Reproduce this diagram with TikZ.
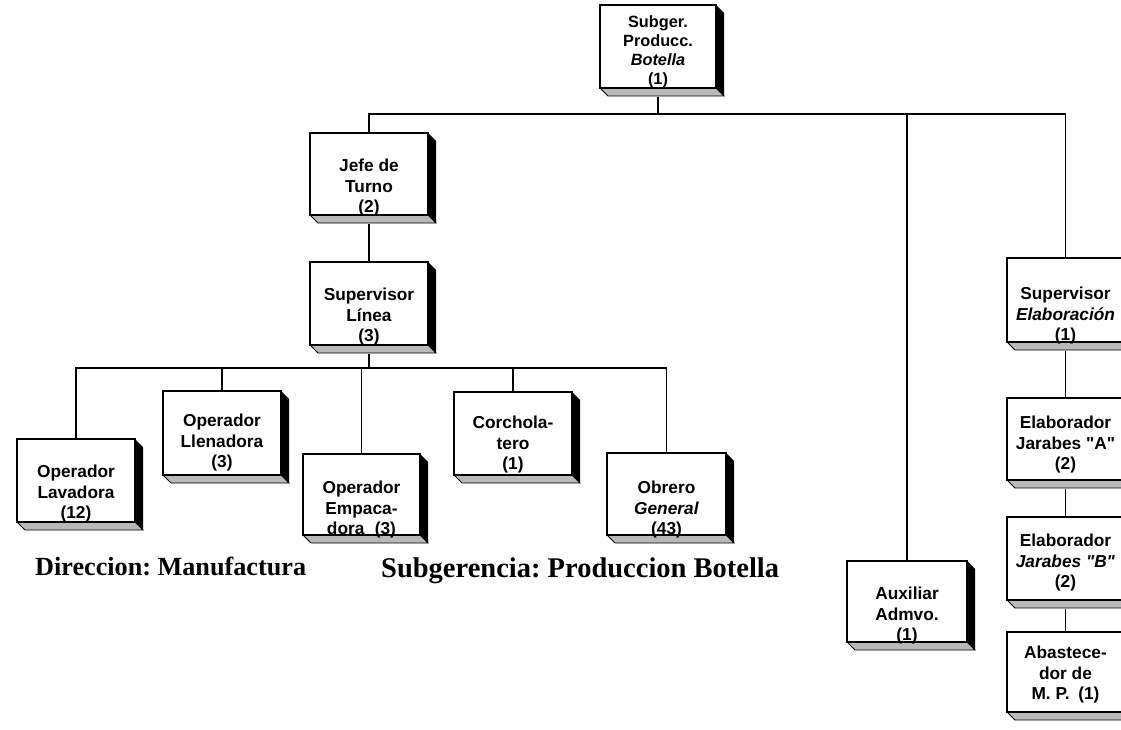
\documentclass[tikz,border=0pt]{standalone}
\usepackage{fontspec}
\setmainfont{Liberation Serif}
\setsansfont{Liberation Sans}[Ligatures=TeXOff]
\frenchspacing
\newcommand\dd{8}
\tikzset{
  boxfront/.style={draw=black, line width=1.4pt, fill=white, inner sep=0pt, rectangle},
  boxtext/.style={font=\sffamily\bfseries\fontsize{17.3}{20.5}\selectfont, align=center, inner sep=0pt, anchor=south},
  conn/.style={draw=black, line width=1.4pt},
  caption/.style={font=\rmfamily\bfseries\fontsize{26.2}{30}\selectfont, inner sep=0pt, anchor=base west},
}
% #1 extra text style, #2 name, #3 x1, #4 y1, #5 x2, #6 y2, #7 last baseline, #8 text
\newcommand\obox[8][]{%
  \fill[black] (#5,#4) -- (#5+\dd,#4+\dd) -- (#5+\dd,#6+\dd) -- (#5,#6) -- cycle;
  \filldraw[fill=gray!55, draw=black, line width=0.8pt] (#3,#6) -- (#3+\dd,#6+\dd) -- (#5+\dd,#6+\dd) -- (#5,#6) -- cycle;
  \node[boxfront, minimum width={#5-#3}, minimum height={#6-#4}] (#2) at ({(#3+#5)/2},{(#4+#6)/2}) {};
  \node[boxtext,#1] (#2t) at ({(#3+#5)/2},{#7+3.6}) {#8};
}
\begin{document}
\begin{tikzpicture}[x=1pt,y=-1pt]
\useasboundingbox (0,0) rectangle (1121,730);
\clip (0,0) rectangle (1121,730);

\obox[font=\sffamily\bfseries\fontsize{16.3}{19}\selectfont]{top}{600}{5}{716}{88}{84}{Subger.\\Producc.\\\textit{Botella}\\(1)}
\obox{jefe}{310}{133}{428}{215}{213}{Jefe de\\Turno\\(2)}
\obox{linea}{310}{262}{428}{345}{342}{Supervisor\\Línea\\(3)}
\obox{lav}{17}{439}{135}{522}{519}{Operador\\Lavadora\\(12)}
\obox{lle}{163}{391}{281}{475}{468}{Operador\\Llenadora\\(3)}
\obox{emp}{303}{454}{420}{535}{535}{Operador\\Empaca-\\dora\hspace{0.6em}(3)}
\obox{cor}{454}{392}{572}{475}{470}{Corchola-\\tero\\(1)}
\obox{obr}{607}{453}{726}{535}{535}{Obrero\\\textit{General}\\(43)}
\obox{aux}{847}{561}{967}{642}{641}{Auxiliar\\Admvo.\\(1)}
\obox{supel}{1007}{258}{1124}{342}{341}{Supervisor\\\textit{Elaboración}\\(1)}
\obox{elA}{1007}{398}{1124}{480}{470}{Elaborador\\Jarabes "A"\\(2)}
\obox{elB}{1007}{517}{1124}{600}{588}{Elaborador\\\textit{Jarabes "B"}\\(2)}
\obox{abas}{1007}{632}{1124}{712}{700}{Abastece-\\dor de\\M. P.\hspace{0.5em}(1)}

\coordinate (bus1) at (658,114);
\coordinate (bus2) at (369,368);

\draw[conn] ([yshift=-\dd pt]top.south) -- (bus1);
\draw[conn] (jefe.north) |- (bus1) -| (supel.north);
\draw[conn] (bus1 -| aux.north) -- (aux.north);
\draw[conn] ([yshift=-\dd pt]jefe.south) -- (linea.north);
\draw[conn] ([yshift=-\dd pt]linea.south) -- (bus2);
\draw[conn] (lav.north) |- (bus2) -| (obr.north);
\draw[conn] (bus2 -| lle.north) -- (lle.north);
\draw[conn] (bus2 -| emp.north) -- (emp.north);
\draw[conn] (bus2 -| cor.north) -- (cor.north);
\draw[conn] ([yshift=-\dd pt]supel.south) -- (elA.north);
\draw[conn] ([yshift=-\dd pt]elA.south) -- (elB.north);
\draw[conn] ([yshift=-\dd pt]elB.south) -- (abas.north);

\node[caption] (cap1) at (35,575) {Direccion: Manufactura};
\node[caption, font=\rmfamily\bfseries\fontsize{28.5}{32}\selectfont] (cap2) at (381,577) {Subgerencia: Produccion Botella};
\end{tikzpicture}
\end{document}
